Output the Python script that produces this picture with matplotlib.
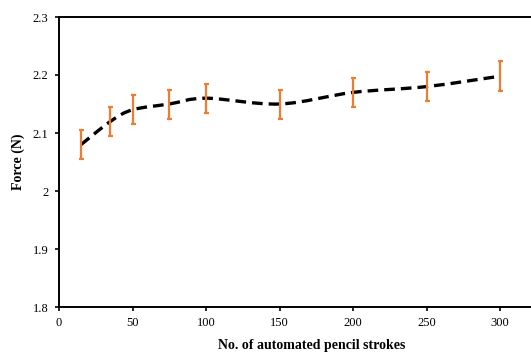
import matplotlib
matplotlib.use("Agg")
import matplotlib.pyplot as plt
from matplotlib.path import Path
from matplotlib.patches import PathPatch
from matplotlib.ticker import FuncFormatter
import numpy as np

strokes = [15, 35, 50, 75, 100, 150, 200, 250, 300]
force = [2.08, 2.12, 2.14, 2.15, 2.16, 2.15, 2.17, 2.18, 2.198]
err = [0.025, 0.025, 0.025, 0.025, 0.025, 0.025, 0.025, 0.025, 0.026]

plt.rcParams['font.family'] = ['Liberation Serif', 'DejaVu Serif']

W, H = 531, 353
fig = plt.figure(figsize=(W/100, H/100), dpi=100)
ax = fig.add_axes([59/W, 46/H, (W-59)/W, (307-17)/H])

# Smoothed line (Catmull-Rom as cubic Bezier, like Excel smoothed line)
x = np.array(strokes, float); y = np.array(force, float)
verts = [(x[0], y[0])]; codes = [Path.MOVETO]
n = len(x)
for i in range(n - 1):
    p0 = (x[i-1], y[i-1]) if i > 0 else (x[i], y[i])
    p1 = (x[i], y[i]); p2 = (x[i+1], y[i+1])
    p3 = (x[i+2], y[i+2]) if i + 2 < n else (x[i+1], y[i+1])
    t = 1/6
    c1 = (p1[0] + (p2[0]-p0[0])*t, p1[1] + (p2[1]-p0[1])*t)
    c2 = (p2[0] - (p3[0]-p1[0])*t, p2[1] - (p3[1]-p1[1])*t)
    verts += [c1, c2, p2]; codes += [Path.CURVE4]*3
patch = PathPatch(Path(verts, codes), fill=False, edgecolor='black', lw=2.4,
                  linestyle=(0, (3.2, 1.8)), zorder=3)
ax.add_patch(patch)

ax.errorbar(strokes, force, yerr=err, fmt='none', ecolor='#ED7D31',
            elinewidth=1.6, capsize=1.8, capthick=1.6, zorder=4)

ax.set_xlim(0, 321)
ax.set_ylim(1.8, 2.3)
ax.set_xticks([0, 50, 100, 150, 200, 250, 300])
ax.set_yticks([1.8, 1.9, 2.0, 2.1, 2.2, 2.3])
ax.yaxis.set_major_formatter(FuncFormatter(lambda v, p: f"{v:g}"))
ax.spines['right'].set_visible(False)
for s in ['left', 'bottom', 'top']:
    ax.spines[s].set_linewidth(1.4)
ax.tick_params(direction='out', length=3, width=1.2, labelsize=9, pad=4.5)
ax.set_xlabel('No. of automated pencil strokes', fontsize=10, fontweight='bold')
ax.set_ylabel('Force (N)', fontsize=10, fontweight='bold')
axw = W - 59
axh = 307 - 17
ax.xaxis.set_label_coords((312-59)/axw, -(351.5-307)/axh)
ax.xaxis.label.set_va('bottom')
ax.yaxis.set_label_coords(-(59-18.5)/axw, 0.5)
ax.yaxis.label.set_va('center')

fig.savefig('out.png', dpi=100)
